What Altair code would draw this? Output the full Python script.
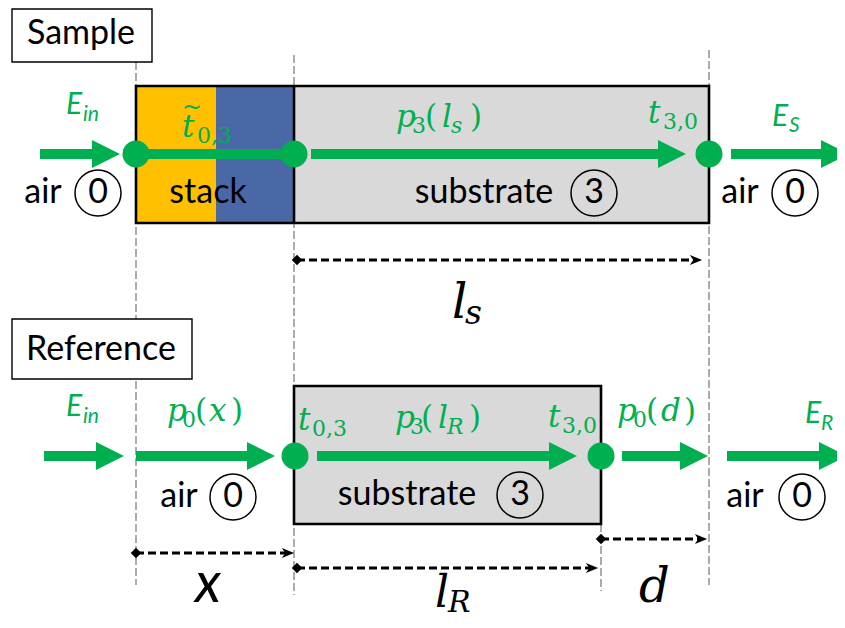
import altair as alt
import pandas as pd

GREEN = "#00B050"
YELLOW = "#FFC000"
BLUE = "#4A68A5"
GREY = "#D9D9D9"
SANS = "Lato"
SERIF = "DejaVu Serif"

# ---------------- data ----------------
# grey vertical guide lines
guide_x = [136, 294, 709, 601]
guide_top = [62, 55, 50, 524]
guide_bottom = [585, 595, 585, 591]

# coloured regions (stack layers and substrates)
region_x1 = [136, 216, 294, 294]
region_x2 = [216, 294, 709, 601]
region_y1 = [86, 86, 86, 386]
region_y2 = [223, 223, 223, 524]
region_fill = [YELLOW, BLUE, GREY, GREY]

# black outlines of sample and reference
outline_x1 = [136, 294]
outline_x2 = [709, 601]
outline_y1 = [86, 386]
outline_y2 = [223, 524]

# label boxes
labelbox_x1 = [12, 12]
labelbox_x2 = [152, 192]
labelbox_y1 = [9, 319]
labelbox_y2 = [62, 379]
labelbox_text = ["Sample", "Reference"]
labelbox_tx = [81, 101]
labelbox_ty = [34, 350]

# green beam shafts
shaft_x1 = [40, 136, 311, 731, 44, 136, 317, 622, 727]
shaft_x2 = [100, 294, 665, 830, 105, 255, 555, 688, 828]
shaft_y = [154, 154, 154, 154, 456, 456, 456, 456, 456]
# green arrow heads (centre)
head_x = [106, 672, 835, 110, 261, 563, 694, 833]
head_y = [154, 154, 154, 456, 456, 456, 456, 456]
# green interface dots
dot_x = [136, 294, 709, 295, 601]
dot_y = [154, 154, 154, 456, 456]

# medium labels: text, x, y
medium_text = ["air", "stack", "substrate", "air", "air", "substrate", "air"]
medium_x = [43, 208, 484, 740, 179, 407, 745]
medium_y = [193, 193, 193, 193, 497, 495, 497]
# circled medium indices
index_text = ["0", "3", "0", "0", "3", "0"]
index_x = [98, 594, 795, 233, 520, 802]
index_y = [193, 193, 193, 497, 495, 497]

# dimension lines: x start, x end (tip), y
dim_x1 = [297, 136, 297, 601]
dim_x2 = [702, 294, 598, 707]
dim_y = [260, 553, 568, 539]

# green sans italic labels (E fields): text, x, baseline y, size
e_text = ["E", "in", "E", "S", "E", "in", "E", "R"]
e_x = [66, 83, 772, 789, 66, 83, 805, 821]
e_y = [114, 121, 126, 132, 416, 423, 423, 430]
e_size = [30, 21, 30, 21, 30, 21, 30, 21]

# green serif italic pieces
gi_text = ["t", "p", "l", "s", "t", "p", "t", "p", "l", "R", "t", "p", "d", "x"]
gi_x = [182, 396, 442, 451, 648, 167, 298, 395, 438, 447, 548, 617, 661, 209]
gi_y = [137, 127, 127, 133, 123, 421, 430, 428, 428, 434, 427, 421, 421, 421]
gi_size = [31, 31, 31, 22, 31, 31, 31, 31, 31, 22, 31, 31, 31, 31]

# green serif upright pieces (digits, brackets, tilde)
gu_text = ["~", "0,3", "3", "(", ")", "3,0", "0", "(", ")", "0,3", "3", "(", ")", "3,0", "0", "(", ")"]
gu_x = [182, 197, 412, 425, 470, 663, 182, 195, 231, 312, 410, 421, 469, 562, 633, 646, 684]
gu_y = [115, 143, 133, 127, 127, 129, 427, 421, 421, 436, 434, 428, 428, 433, 427, 421, 421]
gu_size = [24, 22, 22, 31, 31, 22, 22, 31, 31, 22, 22, 31, 31, 22, 22, 31, 31]

# black dimension labels (serif italic)
dl_text = ["l", "s", "l", "R", "d"]
dl_x = [452, 465, 435, 448, 639]
dl_y = [318, 324, 607, 612, 602]
dl_size = [48, 33, 44, 30, 48]
# black dimension label (sans italic)
ds_text = ["x"]
ds_x = [195]
ds_y = [602]
ds_size = [56]

# ---------------- scales ----------------
XS = alt.Scale(domain=[8, 837], nice=False, zero=False)
YS = alt.Scale(domain=[8, 620], nice=False, zero=False, reverse=True)


def ex(f="x"):
    return alt.X(f"{f}:Q", scale=XS, axis=None)


def ey(f="y"):
    return alt.Y(f"{f}:Q", scale=YS, axis=None)


layers = []

# guide lines
layers.append(
    alt.Chart(pd.DataFrame({"x": guide_x, "y": guide_top, "y2": guide_bottom}))
    .mark_rule(color="#808080", strokeWidth=1.3, strokeDash=[8, 3])
    .encode(x=ex(), y=ey(), y2="y2:Q")
)

# label boxes
layers.append(
    alt.Chart(pd.DataFrame({"x": labelbox_x1, "x2": labelbox_x2, "y": labelbox_y1, "y2": labelbox_y2}))
    .mark_rect(fill="white", stroke="black", strokeWidth=1.4)
    .encode(x=ex(), x2="x2:Q", y=ey(), y2="y2:Q")
)
layers.append(
    alt.Chart(pd.DataFrame({"x": labelbox_tx, "y": labelbox_ty, "t": labelbox_text}))
    .mark_text(font=SANS, fontSize=34, color="black", align="center", baseline="middle")
    .encode(x=ex(), y=ey(), text="t:N")
)

# regions
layers.append(
    alt.Chart(pd.DataFrame({"x": region_x1, "x2": region_x2, "y": region_y1, "y2": region_y2, "fill": region_fill}))
    .mark_rect()
    .encode(x=ex(), x2="x2:Q", y=ey(), y2="y2:Q", color=alt.Color("fill:N", scale=None))
)
# outlines
layers.append(
    alt.Chart(pd.DataFrame({"x": outline_x1, "x2": outline_x2, "y": outline_y1, "y2": outline_y2}))
    .mark_rect(fillOpacity=0, stroke="black", strokeWidth=2.6)
    .encode(x=ex(), x2="x2:Q", y=ey(), y2="y2:Q")
)
# divider stack/substrate
layers.append(
    alt.Chart(pd.DataFrame({"x": [294], "y": [86], "y2": [223]}))
    .mark_rule(color="black", strokeWidth=2.6)
    .encode(x=ex(), y=ey(), y2="y2:Q")
)

# medium labels
layers.append(
    alt.Chart(pd.DataFrame({"x": medium_x, "y": medium_y, "t": medium_text}))
    .mark_text(font=SANS, fontSize=34, color="black", align="center", baseline="middle")
    .encode(x=ex(), y=ey(), text="t:N")
)
layers.append(
    alt.Chart(pd.DataFrame({"x": index_x, "y": index_y}))
    .mark_point(shape="circle", filled=False, color="black", strokeWidth=1.5, size=2116, opacity=1)
    .encode(x=ex(), y=ey())
)
layers.append(
    alt.Chart(pd.DataFrame({"x": index_x, "y": index_y, "t": index_text}))
    .mark_text(font=SANS, fontSize=34, color="black", align="center", baseline="middle")
    .encode(x=ex(), y=ey(), text="t:N")
)

# green beam
layers.append(
    alt.Chart(pd.DataFrame({"x": shaft_x1, "x2": shaft_x2, "y": shaft_y}))
    .mark_rule(color=GREEN, strokeWidth=10)
    .encode(x=ex(), x2="x2:Q", y=ey())
)
layers.append(
    alt.Chart(pd.DataFrame({"x": head_x, "y": head_y}))
    .mark_point(shape="M-1,-1L1,0L-1,1Z", filled=True, color=GREEN, size=784, opacity=1)
    .encode(x=ex(), y=ey())
)
layers.append(
    alt.Chart(pd.DataFrame({"x": dot_x, "y": dot_y}))
    .mark_point(shape="circle", filled=True, color=GREEN, size=729, opacity=1)
    .encode(x=ex(), y=ey())
)

# dimension lines
layers.append(
    alt.Chart(pd.DataFrame({"x": dim_x1, "x2": [v - 6 for v in dim_x2], "y": dim_y}))
    .mark_rule(color="black", strokeWidth=2.8, strokeDash=[8, 4])
    .encode(x=ex(), x2="x2:Q", y=ey())
)
layers.append(
    alt.Chart(pd.DataFrame({"x": dim_x1, "y": dim_y}))
    .mark_point(shape="diamond", filled=True, color="black", size=110, opacity=1)
    .encode(x=ex(), y=ey())
)
layers.append(
    alt.Chart(pd.DataFrame({"x": [v - 6 for v in dim_x2], "y": dim_y}))
    .mark_point(shape="M-1,-0.8L1,0L-1,0.8L-0.45,0Z", filled=True, color="black", size=150, opacity=1)
    .encode(x=ex(), y=ey())
)


def text_layer(xs, ys, ts, sizes, font, style, color):
    df = pd.DataFrame({"x": xs, "y": ys, "t": ts, "s": sizes})
    return (
        alt.Chart(df)
        .mark_text(font=font, fontStyle=style, color=color, align="left", baseline="alphabetic")
        .encode(x=ex(), y=ey(), text="t:N", size=alt.Size("s:Q", scale=None))
    )


layers.append(text_layer(e_x, e_y, e_text, e_size, SANS, "italic", GREEN))
layers.append(text_layer(gi_x, gi_y, gi_text, gi_size, SERIF, "italic", GREEN))
layers.append(text_layer(gu_x, gu_y, gu_text, gu_size, SERIF, "normal", GREEN))
layers.append(text_layer(dl_x, dl_y, dl_text, dl_size, SERIF, "italic", "black"))
layers.append(text_layer(ds_x, ds_y, ds_text, ds_size, SANS, "italic", "black"))

chart = (
    alt.layer(*layers)
    .properties(
        width=829,
        height=612,
        padding=0,
        autosize=alt.AutoSizeParams(type="none"),
    )
    .configure_view(stroke=None)
)

chart.save("out.html", embed_options={"renderer": "svg", "actions": False})
